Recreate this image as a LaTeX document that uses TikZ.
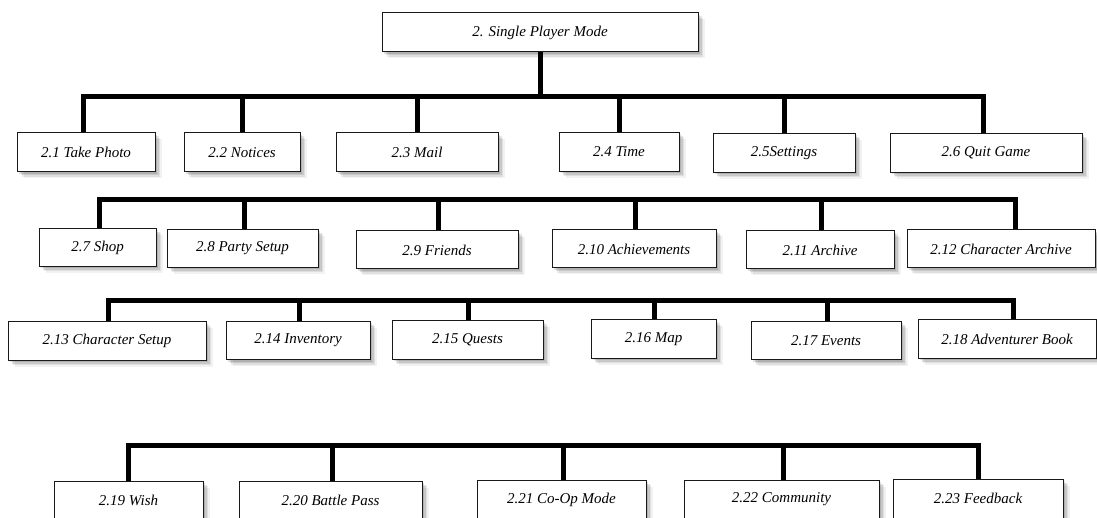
\documentclass[tikz,border=0pt]{standalone}
\usepackage{fontspec}
\setmainfont{Liberation Serif}
\usetikzlibrary{shadows}
\begin{document}
\begin{tikzpicture}[x=1pt,y=-1pt,
  box/.style={draw=black!90, line width=1pt, fill=white, inner sep=0pt,
    font=\fontsize{15}{18}\selectfont\itshape,
    general shadow={fill=black, opacity=0.12, shadow xshift=2pt, shadow yshift=-2pt},
    general shadow={fill=black, opacity=0.10, shadow xshift=3.5pt, shadow yshift=-3.5pt},
    general shadow={fill=black, opacity=0.08, shadow xshift=5pt, shadow yshift=-5pt},
    general shadow={fill=black, opacity=0.05, shadow xshift=6.5pt, shadow yshift=-6.5pt}},
  bar/.style={line width=5pt, line join=miter}]
\useasboundingbox (0,0) rectangle (1097,518);
% bar levels
\coordinate (b1) at (0,97);
\coordinate (b2) at (0,200);
\coordinate (b3) at (0,301);
\coordinate (b4) at (0,445);
% top
\node[box, minimum width=316pt, minimum height=39pt] (top) at (540,32.5) {2. Single Player Mode};
% row 1
\node[box, minimum width=138pt, minimum height=39pt] (n21) at (86,152.5) {2.1 Take Photo};
\node[box, minimum width=116pt, minimum height=39pt] (n22) at (242,152.5) {2.2 Notices};
\node[box, minimum width=162pt, minimum height=39pt] (n23) at (417,152.5) {2.3 Mail};
\node[box, minimum width=120pt, minimum height=39pt] (n24) at (619,152) {2.4 Time};
\node[box, minimum width=142pt, minimum height=39pt] (n25) at (784,153) {2.5Settings};
\node[box, minimum width=192pt, minimum height=39pt] (n26) at (986,153) {2.6 Quit Game};
% row 2
\node[box, minimum width=117pt, minimum height=38pt] (n27) at (97.5,247.5) {2.7 Shop};
\node[box, minimum width=151pt, minimum height=38pt] (n28) at (242.5,248.5) {2.8 Party Setup};
\node[box, minimum width=162pt, minimum height=38pt] (n29) at (437,250) {2.9 Friends};
\node[box, minimum width=164pt, minimum height=38pt] (n210) at (634,249) {2.10 Achievements};
\node[box, minimum width=148pt, minimum height=38pt] (n211) at (820,250) {2.11 Archive};
\node[box, minimum width=188pt, minimum height=38pt] (n212) at (1001,249) {2.12 Character Archive};
% row 3
\node[box, minimum width=198pt, minimum height=38pt] (n213) at (107,341) {2.13 Character Setup};
\node[box, minimum width=144pt, minimum height=38pt] (n214) at (298,340.5) {2.14 Inventory};
\node[box, minimum width=151pt, minimum height=38pt] (n215) at (467.5,340) {2.15 Quests};
\node[box, minimum width=125pt, minimum height=38pt] (n216) at (653.5,339) {2.16 Map};
\node[box, minimum width=150pt, minimum height=38pt] (n217) at (826,340.5) {2.17 Events};
\node[box, minimum width=178pt, minimum height=38pt] (n218) at (1007,339) {2.18 Adventurer Book};
% row 4
\node[box, minimum width=149pt, minimum height=39pt] (n219) at (128.5,500.5) {2.19 Wish};
\node[box, minimum width=183pt, minimum height=39pt] (n220) at (330.5,500.5) {2.20 Battle Pass};
\node[box, minimum width=169pt, minimum height=39pt] (n221) at (561.5,499.5) {2.21 Co-Op Mode};
\node[box, minimum width=195pt, minimum height=39pt] (n222) at (781.5,499.5) {2.22 Community};
\node[box, minimum width=170pt, minimum height=39pt] (n223) at (978,498.5) {2.23 Feedback};
% connectors row 1
\draw[bar] (top.south) -- (top.south |- b1);
\draw[bar] ([xshift=-3pt]n21.north) -- ([xshift=-3pt]n21.north |- b1) -- ([xshift=-3pt]n26.north |- b1) -- ([xshift=-3pt]n26.north);
\foreach \n in {n22,n23,n24,n25} \draw[bar] (\n.north) -- (\n.north |- b1);
% row 2
\draw[bar] ([xshift=1.5pt]n27.north) -- ([xshift=1.5pt]n27.north |- b2) -- ([xshift=14pt]n212.north |- b2) -- ([xshift=14pt]n212.north);
\foreach \n in {n28,n29,n210,n211} \draw[bar] ([xshift=1.5pt]\n.north) -- ([xshift=1.5pt]\n.north |- b2);
% row 3
\draw[bar] ([xshift=1pt]n213.north) -- ([xshift=1pt]n213.north |- b3) -- ([xshift=6pt]n218.north |- b3) -- ([xshift=6pt]n218.north);
\foreach \n in {n214,n215,n216,n217} \draw[bar] ([xshift=1pt]\n.north) -- ([xshift=1pt]\n.north |- b3);
% row 4
\draw[bar] (n219.north) -- (n219.north |- b4) -- (n223.north |- b4) -- (n223.north);
\foreach \n in {n220,n221,n222} \draw[bar] ([xshift=1.5pt]\n.north) -- ([xshift=1.5pt]\n.north |- b4);
\end{tikzpicture}
\end{document}
